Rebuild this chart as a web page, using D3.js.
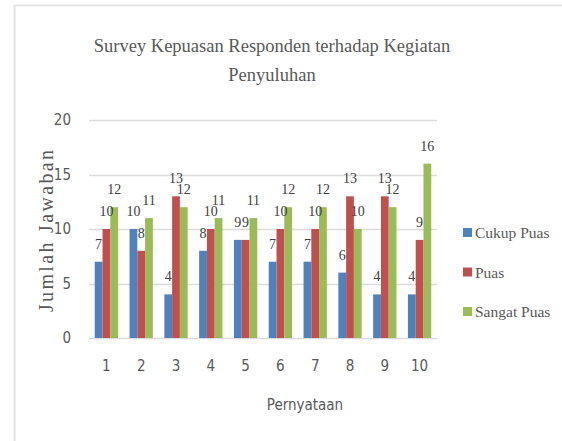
<!DOCTYPE html>
<html>
<head>
<meta charset="utf-8">
<title>Survey Kepuasan Responden</title>
<script src="https://d3js.org/d3.v7.min.js"></script>
<style>
  body { margin: 0; background: #fff; }
</style>
</head>
<body>
<div id="chart"></div>
<script>
// data
var pernyataan = ["1", "2", "3", "4", "5", "6", "7", "8", "9", "10"];
var cukupPuas  = [7, 10, 4, 8, 9, 7, 7, 6, 4, 4];
var puas       = [10, 8, 13, 10, 9, 10, 10, 13, 13, 9];
var sangatPuas = [12, 11, 12, 11, 11, 12, 12, 10, 12, 16];
var seriesNames = ["Cukup Puas", "Puas", "Sangat Puas"];
var seriesColors = ["#4f81bd", "#c0504d", "#9bbb59"];
var yTicks = [0, 5, 10, 15, 20];

var W = 562, H = 441;
var serif = "'Liberation Serif', 'DejaVu Serif', serif";
var sans = "'Liberation Sans Narrow', 'DejaVu Sans Condensed', sans-serif";

var svg = d3.select("#chart").append("svg")
    .attr("width", W)
    .attr("height", H);

// outer frame
svg.append("path")
    .attr("d", "M14.5," + H + " V5.5 H" + W)
    .attr("fill", "none")
    .attr("stroke", "#e3e3e3")
    .attr("stroke-width", 2);

var plotL = 89, plotR = 437, plotT = 120, plotB = 338;

var x0 = d3.scaleBand().domain(pernyataan).range([plotL, plotR]).paddingInner(0.33).paddingOuter(0.165);
var x1 = d3.scaleBand().domain(seriesNames).range([0, x0.bandwidth()]);
var y = d3.scaleLinear().domain([0, 20]).range([plotB, plotT]);

var rows = pernyataan.map(function (p, i) {
  return { p: p, vals: [cukupPuas[i], puas[i], sangatPuas[i]] };
});

// gridlines
svg.append("g").selectAll("line")
  .data(yTicks)
  .enter().append("line")
    .attr("x1", plotL).attr("x2", plotR)
    .attr("y1", function (d) { return Math.round(y(d)) + 0.5; })
    .attr("y2", function (d) { return Math.round(y(d)) + 0.5; })
    .attr("stroke", "#dcdcdc")
    .attr("stroke-width", 1.5);

// y axis labels
var yAxis = d3.axisLeft(y).tickValues(yTicks).tickSize(0).tickPadding(18);
var gy = svg.append("g").attr("transform", "translate(" + plotL + ",0)").call(yAxis);
gy.select(".domain").remove();
gy.selectAll("text").attr("fill", "#595959").style("font-family", sans).style("font-size", "15px");

// x axis labels
var xAxis = d3.axisBottom(x0).tickSize(0).tickPadding(22);
var gx = svg.append("g").attr("transform", "translate(0," + plotB + ")").call(xAxis);
gx.select(".domain").remove();
gx.selectAll("text").attr("fill", "#595959").style("font-family", sans).style("font-size", "15px");

// bars
var groups = svg.append("g").selectAll("g")
  .data(rows)
  .enter().append("g")
    .attr("transform", function (d) { return "translate(" + x0(d.p) + ",0)"; });

groups.selectAll("rect")
  .data(function (d) { return d.vals.map(function (v, k) { return { k: k, v: v }; }); })
  .enter().append("rect")
    .attr("x", function (d) { return x1(seriesNames[d.k]); })
    .attr("width", x1.bandwidth())
    .attr("y", function (d) { return y(d.v); })
    .attr("height", function (d) { return y(0) - y(d.v); })
    .attr("fill", function (d) { return seriesColors[d.k]; });

// data labels
groups.selectAll("text")
  .data(function (d) { return d.vals.map(function (v, k) { return { k: k, v: v }; }); })
  .enter().append("text")
    .attr("x", function (d) { return x1(seriesNames[d.k]) + x1.bandwidth() / 2; })
    .attr("y", function (d) { return y(d.v) - 13; })
    .attr("text-anchor", "middle")
    .attr("fill", "#404040")
    .style("font-family", serif)
    .style("font-size", "14px")
    .text(function (d) { return d.v; });

// title
var title = svg.append("text")
    .attr("text-anchor", "middle")
    .attr("fill", "#595959")
    .style("font-family", serif)
    .style("font-size", "18.5px");
title.append("tspan").attr("x", 272).attr("y", 52).text("Survey Kepuasan Responden terhadap Kegiatan");
title.append("tspan").attr("x", 272).attr("y", 81).text("Penyuluhan");

// axis titles
svg.append("text")
    .attr("transform", "translate(53,231) rotate(-90)")
    .attr("text-anchor", "middle")
    .attr("fill", "#595959")
    .style("font-family", serif)
    .style("font-size", "20px")
    .attr("textLength", 162)
    .attr("lengthAdjust", "spacing")
    .text("Jumlah Jawaban");

svg.append("text")
    .attr("x", (plotL + plotR) / 2 + 42)
    .attr("y", 410)
    .attr("text-anchor", "middle")
    .attr("fill", "#595959")
    .style("font-family", sans)
    .style("font-size", "15px")
    .text("Pernyataan");

// legend
var legend = svg.append("g").selectAll("g")
  .data(seriesNames)
  .enter().append("g")
    .attr("transform", function (d, i) { return "translate(463," + (233 + i * 39.5) + ")"; });

legend.append("rect")
    .attr("x", 0).attr("y", -5)
    .attr("width", 9).attr("height", 9)
    .attr("fill", function (d, i) { return seriesColors[i]; });

legend.append("text")
    .attr("x", 12).attr("y", 5)
    .attr("fill", "#595959")
    .style("font-family", serif)
    .style("font-size", "15.5px")
    .text(function (d) { return d; });
</script>
</body>
</html>
